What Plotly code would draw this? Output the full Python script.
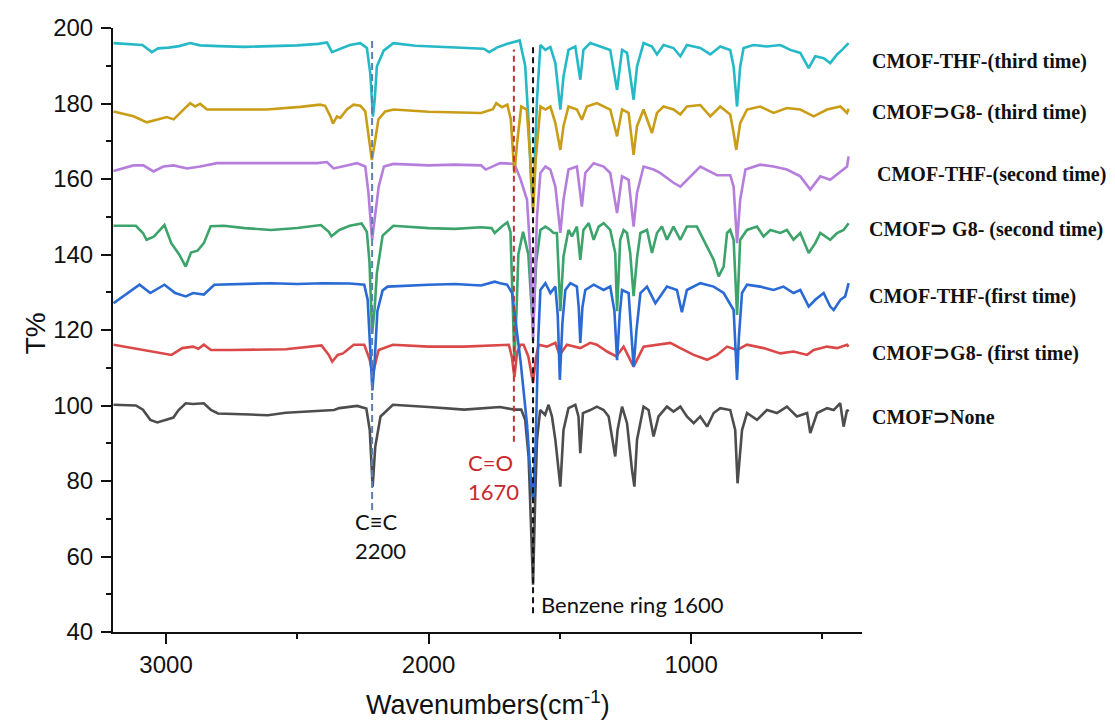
import plotly.graph_objects as go

# ---------------- data (wavenumber cm-1, T%) ----------------
cyan_third_thf = [(3200,196),(3155,195.8),(3090,195.5),(3054,193.6),(3030,194.6),(2990,194.8),(2950,195.2),(2908,196),(2870,195.4),(2800,195.2),(2700,195),(2600,195.2),(2500,195.4),(2420,195.8),(2387,196.2),(2368,193.6),(2336,194.4),(2300,195.5),(2260,196),(2235,194.7),(2222,188),(2212,176.5),(2205,181),(2197,189.8),(2171,194),(2134,196),(2050,195.3),(1950,195),(1850,194.8),(1790,194.5),(1769,193.6),(1740,194.8),(1700,195.8),(1653,196.7),(1632,190),(1619,175),(1610,160),(1602,153),(1595,165),(1587,181),(1574,195.5),(1555,194.2),(1536,195),(1517,190.7),(1498,178.4),(1486,187.2),(1467,194.2),(1441,195.1),(1422,186.3),(1410,194.2),(1384,196),(1346,195.1),(1308,194.2),(1282,183.6),(1263,194.2),(1244,193.4),(1219,181),(1206,189.8),(1181,196),(1149,195.1),(1130,193),(1105,195.5),(1067,194.7),(1041,192.5),(1016,195.5),(965,194.7),(927,193),(889,195.1),(851,194.2),(838,189.8),(825,179.2),(813,189.8),(800,194.7),(762,195.5),(711,195.1),(660,195.5),(622,194.2),(584,193.4),(552,189.4),(527,192.5),(495,192),(470,190.7),(444,193),(425,194.2),(400,196)]

gold_third_g8 = [(3200,177.9),(3124,176.6),(3073,175),(3035,175.6),(2997,176.4),(2971,175.8),(2933,178.4),(2908,180.1),(2889,179.2),(2870,179.9),(2844,178.4),(2743,178.4),(2616,178.4),(2489,179.1),(2413,179.7),(2394,179.4),(2374,176.6),(2364,174.7),(2349,176.6),(2336,176.2),(2311,178.4),(2286,179.7),(2260,179.4),(2241,177.9),(2229,172.2),(2216,165),(2203,170.4),(2191,175.8),(2165,177.9),(2133,178.4),(2000,177.8),(1900,177.6),(1800,177.5),(1755,178.5),(1742,180.1),(1720,179),(1700,179.7),(1687,176),(1673,161.5),(1662,170),(1647,179.2),(1626,178.4),(1612,165),(1602,151),(1592,165),(1574,179.2),(1555,178.4),(1536,179.2),(1517,174.8),(1498,167.7),(1486,174),(1467,179.2),(1435,178.4),(1416,175.7),(1397,179.2),(1359,180.1),(1308,178.4),(1282,171.3),(1263,178.4),(1238,177.5),(1219,166.4),(1206,174),(1181,178.4),(1149,172.2),(1130,177.5),(1105,179.2),(1067,178.4),(1041,177.1),(1016,179.2),(965,179.6),(927,176.6),(889,179.2),(851,177.1),(838,172.2),(828,167.7),(813,174.8),(787,178.4),(737,179.2),(686,177.5),(635,178.8),(584,178.4),(533,176.6),(482,178.4),(431,179.2),(406,177.5),(400,178.6)]

purple_second_thf = [(3200,162.1),(3124,163.6),(3086,163.6),(3048,162),(3010,163.3),(2971,163.6),(2920,162.8),(2870,163.3),(2806,164.2),(2679,164.2),(2552,164),(2425,164.2),(2387,164.5),(2362,162.8),(2324,163.4),(2273,164.2),(2241,163.3),(2229,156.3),(2215,143.9),(2205,150),(2190,158),(2170,163.3),(2134,164),(2000,163.6),(1900,163.8),(1800,163.6),(1782,162.5),(1728,164.2),(1673,164),(1650,160),(1625,154.5),(1612,140),(1602,117),(1594,135),(1587,150),(1574,161.6),(1555,163.3),(1536,162.5),(1517,158),(1498,145.7),(1486,154.5),(1467,162.5),(1435,163.3),(1416,152.7),(1403,161.6),(1371,164.2),(1333,163.3),(1308,161.6),(1282,151),(1263,160.7),(1238,159.8),(1219,147.4),(1206,156.3),(1181,163.3),(1143,162.5),(1118,161.6),(1067,159),(1041,158),(1003,160.7),(965,163.3),(901,161),(851,161),(838,158),(825,143),(813,154.5),(793,162.5),(737,163.8),(686,163.3),(635,162.5),(584,160.7),(546,157.2),(508,160.7),(470,159.8),(431,162),(406,163.3),(400,166)]

green_second_g8 = [(3200,147.6),(3115,147.6),(3088,145.7),(3074,143.9),(3047,144.7),(3006,147.8),(2980,143),(2950,140),(2925,136.8),(2905,140.5),(2880,141),(2856,143),(2830,147.5),(2780,147.6),(2700,147),(2600,146.5),(2500,147),(2410,147.8),(2380,146),(2370,144.8),(2340,146.5),(2300,147.6),(2255,148.2),(2235,146),(2225,138),(2215,119),(2205,126),(2197,135),(2175,145),(2134,147.6),(2000,147),(1900,146.8),(1800,147.2),(1760,147),(1748,145.7),(1720,147.5),(1700,148.5),(1688,146),(1680,128),(1673,112),(1665,125),(1658,140),(1640,146),(1620,140),(1602,120),(1590,138),(1574,146.5),(1555,147.4),(1536,146.5),(1524,145.7),(1511,145.7),(1498,125),(1486,139.5),(1467,146.5),(1454,144.8),(1435,147.4),(1422,138.6),(1410,146.5),(1390,148.3),(1371,143.9),(1352,147.4),(1333,148.3),(1308,146.5),(1289,140.4),(1282,125),(1270,143.9),(1257,146.5),(1244,145.7),(1232,140.4),(1219,129),(1206,139),(1193,145.7),(1168,146.5),(1149,140.4),(1130,145.7),(1111,147.4),(1092,143.9),(1067,147.4),(1041,143.9),(1016,147.4),(978,147.4),(952,143.9),(914,138.6),(895,134.2),(876,136.8),(863,145.7),(851,146.5),(838,143.9),(825,124),(813,143.9),(787,146.5),(749,147.4),(724,144.8),(698,146.5),(660,145.7),(635,146.5),(610,143.9),(584,145.7),(552,140.4),(527,143),(508,145.7),(470,143.9),(444,145.7),(419,146.5),(400,148.3)]

blue_first_thf = [(3200,127.1),(3150,129.5),(3101,132),(3060,129.8),(3020,131.5),(3006,132),(2965,129.8),(2925,128.9),(2897,129.8),(2856,129.4),(2816,132),(2700,132.2),(2600,132.4),(2500,132.2),(2400,132.4),(2300,132.3),(2245,132),(2232,128),(2222,115),(2214,104),(2205,112),(2195,125),(2175,130.5),(2156,131.5),(2000,132),(1900,132.2),(1800,131.8),(1748,132.8),(1727,132.4),(1701,132),(1682,129.8),(1670,122.7),(1650,112),(1625,95),(1610,80),(1602,75),(1592,90),(1582,118),(1574,130.6),(1555,132.4),(1536,129.8),(1517,131.5),(1508,124),(1500,106.8),(1490,122),(1479,130.6),(1460,132.4),(1435,131.5),(1428,126),(1422,116.6),(1414,126),(1403,130.6),(1371,132),(1333,130.6),(1308,131.5),(1292,125),(1282,112),(1272,124),(1263,130.6),(1238,129.8),(1228,118),(1219,110.3),(1208,120),(1193,129.8),(1168,131.5),(1136,127.1),(1118,128.9),(1092,131.5),(1054,130.6),(1035,124.7),(1016,130.6),(965,132.4),(914,131.5),(876,129.8),(838,125.3),(830,115),(825,106.8),(818,118),(806,129.8),(787,132),(737,131.5),(686,130.6),(648,131.5),(610,129.8),(584,130.6),(552,126.2),(527,128),(495,129.8),(470,126.2),(457,125.3),(431,128),(413,128.9),(400,132.4)]

red_first_g8 = [(3200,116.1),(3088,114.7),(3020,113.8),(2979,113.4),(2938,115.2),(2897,115.6),(2877,115),(2856,116.1),(2829,114.7),(2748,114.7),(2544,114.9),(2408,115.9),(2380,113.4),(2367,111.6),(2346,113.4),(2326,113.8),(2285,116.1),(2245,116.1),(2224,112.1),(2213,108),(2200,112),(2190,114.7),(2136,116.1),(2000,115.6),(1864,115.6),(1728,116.1),(1694,116.1),(1683,113),(1673,107.5),(1663,114),(1650,116.1),(1638,116.1),(1620,113),(1602,106),(1590,113),(1581,116.1),(1549,115.6),(1517,116.6),(1501,113.4),(1473,116.1),(1422,115.2),(1384,116.6),(1359,116.1),(1320,114.3),(1285,113),(1257,115.6),(1219,110.3),(1181,115.6),(1118,116.1),(1079,116.6),(1041,115.2),(990,113.4),(939,112.1),(901,113.4),(863,115.6),(825,114.7),(787,116.1),(724,115.2),(660,113.8),(610,114.3),(558,113.4),(533,114.7),(482,115.6),(444,115.2),(406,116.1),(400,115.6)]

gray_none = [(3200,100.2),(3115,100),(3088,98.9),(3060,96.2),(3033,95.5),(2992,96.4),(2972,96.8),(2952,98.8),(2925,100.6),(2897,100.4),(2856,100.6),(2829,98.8),(2802,97.9),(2680,97.6),(2612,97.4),(2544,98.1),(2408,98.7),(2360,98.8),(2340,99.3),(2272,99.9),(2237,99.2),(2224,93.5),(2213,78.5),(2203,89.1),(2183,97.1),(2136,100.2),(2000,99.6),(1864,98.9),(1728,99.6),(1673,98.9),(1647,98.9),(1632,96.2),(1619,86.5),(1608,65),(1602,52.5),(1594,75),(1587,90.9),(1575,98.8),(1556,97.5),(1543,100.2),(1530,97.1),(1517,90.9),(1498,78.5),(1486,93.5),(1467,99.3),(1441,100.2),(1429,97.1),(1422,87.4),(1412,98),(1384,98.8),(1359,99.7),(1333,98.8),(1314,97.1),(1289,86.5),(1280,93.5),(1263,99.7),(1244,95.3),(1225,82.9),(1216,78.5),(1206,90.9),(1181,99.7),(1162,98.8),(1143,91.8),(1124,97.1),(1092,99.7),(1067,98.4),(1041,99.7),(1016,97.1),(990,95.3),(965,97.1),(939,94.4),(914,98),(889,99.3),(851,98.8),(832,93.5),(823,79.4),(806,93.5),(787,98),(749,96.2),(711,98.8),(673,98),(635,99.7),(597,97.1),(558,98),(546,92.7),(520,98),(482,99.3),(457,98.8),(432,100.6),(419,94.4),(406,98.8),(400,98.4)]

series_labels = ["CMOF-THF-(third time)", "CMOF⊃G8- (third time)", "CMOF-THF-(second time)",
                 "CMOF⊃ G8- (second time)", "CMOF-THF-(first time)", "CMOF⊃G8- (first time)", "CMOF⊃None"]
label_levels = [191.1, 177.6, 161.1, 146.5, 128.8, 113.9, 97.0]

# marker lines: (wavenumber, T bottom, T top)
line_cc = (2215, 72.3, 197.4)
line_co = (1675, 90.4, 194.3)
line_benz = (1602, 45.0, 195.1)

# ---------------- figure ----------------
series = [gray_none, red_first_g8, green_second_g8, blue_first_thf, purple_second_thf, cyan_third_thf, gold_third_g8]
colors = ["#4d4d4d", "#db4848", "#3ca46b", "#2a6ad4", "#b57edc", "#25b9c8", "#c99d16"]

fig = go.Figure()
for s, c in zip(series, colors):
    fig.add_trace(go.Scatter(x=[p[0] for p in s], y=[p[1] for p in s], mode="lines",
                             line=dict(color=c, width=2.6), showlegend=False, hoverinfo="skip"))

for (wn, lo, hi), c, d in [(line_cc, "#5b80ad", "7px,4px"), (line_co, "#c0313a", "6px,4px"),
                           (line_benz, "#111111", "6px,4px")]:
    fig.add_trace(go.Scatter(x=[wn, wn], y=[lo, hi], mode="lines",
                             line=dict(color=c, width=2, dash=d), showlegend=False, hoverinfo="skip"))

PW = 749.0
ML = 105  # page has an 8px body margin, so plot left edge lands at 113
label_px = [870, 870, 875, 867, 867, 870, 870]
annotations = []
for txt, lv, px in zip(series_labels, label_levels, label_px):
    annotations.append(dict(text=txt, xref="paper", x=(px - 112.7) / PW, xanchor="left",
                            yref="y", y=lv, yanchor="middle", showarrow=False,
                            font=dict(family="Liberation Serif", size=20, color="#111111", weight="bold")))

ann_font = dict(family="Lato", size=22, color="#111111")
annotations += [
    dict(text="C≡C<br>2200", x=2288, y=65.5, xref="x", yref="y", xanchor="left", yanchor="middle",
         align="left", showarrow=False, font=ann_font),
    dict(text="C=O<br>1670", x=1856, y=81, xref="x", yref="y", xanchor="left", yanchor="middle",
         align="left", showarrow=False, font=dict(family="Lato", size=22, color="#c8282e")),
    dict(text="Benzene ring 1600", x=1578, y=47.2, xref="x", yref="y", xanchor="left", yanchor="middle",
         showarrow=False, font=ann_font),
    dict(text="T%", xref="paper", x=(35 - 112.7) / PW, yref="paper", y=0.495, textangle=-90,
         xanchor="center", yanchor="middle", showarrow=False,
         font=dict(family="Liberation Sans", size=28, color="#111111")),
    dict(text="Wavenumbers(cm<sup>-1</sup>)", xref="paper", x=0.5, yref="paper", y=(632 - 703) / 604.0,
         xanchor="center", yanchor="middle", showarrow=False,
         font=dict(family="Liberation Sans", size=27, color="#111111")),
]

axis_font = dict(family="Liberation Sans", size=24, color="#111111")
fig.update_layout(
    width=1107, height=716,
    margin=dict(l=ML, r=253, t=20, b=92, autoexpand=False),
    plot_bgcolor="white", paper_bgcolor="white",
    showlegend=False,
    annotations=annotations,
    xaxis=dict(range=[3202, 349], showgrid=False, zeroline=False, showline=True, linecolor="#111111",
               linewidth=2, ticks="outside", ticklen=10, tickwidth=2, tickcolor="#111111",
               tickvals=[3000, 2000, 1000], ticktext=["3000", "2000", "1000"], tickfont=axis_font,
               minor=dict(tickvals=[2500, 1500, 500], ticks="outside", ticklen=5, tickwidth=2,
                          tickcolor="#111111", showgrid=False)),
    yaxis=dict(range=[40, 200], showgrid=False, zeroline=False, showline=True, linecolor="#111111",
               linewidth=2, ticks="outside", ticklen=10, tickwidth=2, tickcolor="#111111",
               ticklabelstandoff=3,
               tickvals=[40, 60, 80, 100, 120, 140, 160, 180, 200], tickfont=axis_font,
               minor=dict(tickvals=[50, 70, 90, 110, 130, 150, 170, 190], ticks="outside", ticklen=5,
                          tickwidth=2, tickcolor="#111111", showgrid=False)),
)

fig.write_html("out.html")
